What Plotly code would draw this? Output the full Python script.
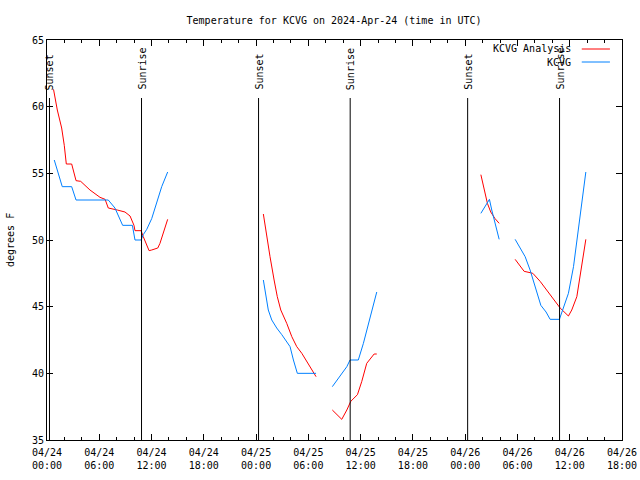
import plotly.graph_objects as go

# ---------------- data ----------------
# KCVG Analysis (red) - segments
ana_d1_t = ["00:45", "01:11", "01:41", "01:59", "02:13", "02:50", "03:20", "03:52", "04:56", "06:05",
            "06:40", "07:02", "08:04", "08:57", "09:32", "09:59", "10:06", "10:48", "11:03", "11:43",
            "12:01", "12:43", "12:58", "13:51"]
ana_d1_v = [61.3, 59.75, 58.4, 57.1, 55.7, 55.7, 54.45, 54.4, 53.75, 53.2,
            53.05, 52.4, 52.25, 52.1, 51.8, 51.1, 50.7, 50.7, 50.25, 49.2,
            49.25, 49.4, 49.75, 51.55]
ana_d2a_t = ["00:50", "01:09", "01:36", "02:04", "02:26", "02:50", "03:31", "04:06", "04:40", "05:15",
             "05:49", "06:23", "06:53"]
ana_d2a_v = [51.95, 50.5, 48.75, 47.0, 45.75, 44.75, 43.75, 42.75, 42.0, 41.5, 40.9, 40.25, 39.75]
ana_d2b_t = ["08:45", "09:50", "10:25", "10:52", "11:38", "12:08", "12:42", "13:33", "13:51"]
ana_d2b_v = [37.25, 36.55, 37.25, 37.9, 38.4, 39.4, 40.75, 41.45, 41.45]
ana_d3a_t = ["01:48", "02:10", "02:33", "02:56", "03:26", "03:54"]
ana_d3a_v = [54.9, 53.75, 52.75, 52.1, 51.6, 51.25]
ana_d3b_t = ["05:44", "06:18", "06:46", "07:27", "07:46", "08:36", "09:33", "10:19", "10:54", "11:51",
             "12:14", "12:49", "13:16", "13:51"]
ana_d3b_v = [48.55, 48.1, 47.65, 47.55, 47.5, 46.9, 46.1, 45.4, 44.9, 44.3, 44.75, 45.75, 47.75, 50.05]

# KCVG observations (blue) - segments
obs_d1_t = ["00:50", "01:45", "02:50", "03:20", "07:02", "07:48", "08:41", "09:48", "10:06", "10:48",
            "11:03", "11:27", "12:01", "12:36", "13:10", "13:51"]
obs_d1_v = [56.0, 54.0, 54.0, 53.0, 53.0, 52.4, 51.1, 51.1, 50.0, 50.0,
            50.4, 50.8, 51.6, 52.75, 54.0, 55.1]
obs_d2a_t = ["00:50", "01:09", "01:24", "01:48", "02:22", "02:57", "03:31", "03:54", "04:17", "04:44", "06:53"]
obs_d2a_v = [47.0, 45.75, 44.75, 44.0, 43.4, 42.9, 42.4, 42.0, 41.0, 40.0, 40.0]
obs_d2b_t = ["08:45", "09:38", "10:25", "10:47", "11:44", "12:19", "12:53", "13:28", "13:51"]
obs_d2b_v = [39.0, 39.75, 40.5, 41.0, 41.0, 42.25, 43.75, 45.25, 46.1]
obs_d3a_t = ["01:48", "02:17", "02:47", "03:03", "03:26", "03:54"]
obs_d3a_v = [52.0, 52.55, 53.05, 52.25, 51.25, 50.05]
obs_d3b_t = ["05:44", "06:18", "06:53", "07:27", "08:02", "08:41", "09:17", "09:45", "10:49", "11:17",
             "11:51", "12:26", "13:00", "13:23", "13:51"]
obs_d3b_v = [50.05, 49.45, 48.75, 47.75, 46.5, 45.1, 44.6, 44.05, 44.05, 44.9,
             46.0, 48.0, 51.0, 53.0, 55.1]

sunset_times = ["2024-04-24 00:17", "2024-04-25 00:17", "2024-04-26 00:17"]
sunrise_times = ["2024-04-24 10:51", "2024-04-25 10:48", "2024-04-26 10:50"]

D1, D2, D3 = "2024-04-24", "2024-04-25", "2024-04-26"


def join(segs):
    xs, ys = [], []
    for day, t, v in segs:
        if xs:
            xs.append(None)
            ys.append(None)
        xs += [f"{day} {h}" for h in t]
        ys += list(v)
    return xs, ys


ana_x, ana_y = join([(D1, ana_d1_t, ana_d1_v), (D2, ana_d2a_t, ana_d2a_v), (D2, ana_d2b_t, ana_d2b_v),
                     (D3, ana_d3a_t, ana_d3a_v), (D3, ana_d3b_t, ana_d3b_v)])
obs_x, obs_y = join([(D1, obs_d1_t, obs_d1_v), (D2, obs_d2a_t, obs_d2a_v), (D2, obs_d2b_t, obs_d2b_v),
                     (D3, obs_d3a_t, obs_d3a_v), (D3, obs_d3b_t, obs_d3b_v)])

RED = "#ff0000"
BLUE = "#0080ff"
FONT = "DejaVu Sans Mono"

fig = go.Figure()
fig.add_trace(go.Scatter(x=ana_x, y=ana_y, mode="lines", name="KCVG Analysis",
                         line=dict(color=RED, width=1), connectgaps=False, showlegend=False))
fig.add_trace(go.Scatter(x=obs_x, y=obs_y, mode="lines", name="KCVG",
                         line=dict(color=BLUE, width=1), connectgaps=False, showlegend=False))

shapes = []
annotations = []
for label, times in (("Sunset", sunset_times), ("Sunrise", sunrise_times)):
    for t in times:
        shapes.append(dict(type="line", xref="x", yref="paper", x0=t, x1=t, y0=0, y1=0.855,
                           line=dict(color="black", width=1)))
        annotations.append(dict(x=t, y=0.87, xref="x", yref="paper", text=label, showarrow=False,
                                textangle=-90, xanchor="center", yanchor="bottom",
                                font=dict(family=FONT, size=10, color="black")))

# gnuplot-style legend (text right-aligned, sample line at right)
for name, col, yp in (("KCVG Analysis", RED, 0.9775), ("KCVG", BLUE, 0.945)):
    annotations.append(dict(x=0.9148, y=yp, xref="paper", yref="paper", text=name, showarrow=False,
                            xanchor="right", yanchor="middle",
                            font=dict(family=FONT, size=10, color="black")))
    shapes.append(dict(type="line", xref="paper", yref="paper", x0=0.930, x1=0.979, y0=yp, y1=yp,
                       line=dict(color=col, width=1)))

annotations.append(dict(x=-0.0643, y=0.5, xref="paper", yref="paper", text="degrees F", showarrow=False,
                        textangle=-90, xanchor="center", yanchor="middle",
                        font=dict(family=FONT, size=10, color="black")))

fig.update_layout(
    width=640, height=480,
    margin=dict(l=47, r=18, t=40, b=40, pad=0, autoexpand=False),
    paper_bgcolor="white", plot_bgcolor="white",
    font=dict(family=FONT, size=10, color="black"),
    title=dict(text="Temperature for KCVG on 2024-Apr-24 (time in UTC)", x=0.522, xanchor="center",
               y=1 - 20 / 480, yanchor="middle", font=dict(family=FONT, size=10, color="black")),
    shapes=shapes, annotations=annotations,
    showlegend=False,
)
fig.update_xaxes(
    type="date", range=["2024-04-24 00:00", "2024-04-26 18:00"], automargin=False,
    dtick=6 * 3600 * 1000, tick0="2024-04-24 00:00", tickformat="%m/%d<br>%H:%M",
    ticks="inside", ticklen=6, tickcolor="black", showline=True, linecolor="black", linewidth=1,
    mirror="allticks", showgrid=False, zeroline=False, ticklabelstandoff=3,
    minor=dict(dtick=2 * 3600 * 1000, ticks="inside", ticklen=3, tickcolor="black", showgrid=False),
    tickfont=dict(family=FONT, size=10),
)
fig.update_yaxes(
    range=[35, 65], dtick=5, ticks="inside", ticklen=6, tickcolor="black", automargin=False,
    showline=True, linecolor="black", linewidth=1, mirror="allticks",
    showgrid=False, zeroline=False, tickfont=dict(family=FONT, size=10),
)

fig.write_html("out.html")
